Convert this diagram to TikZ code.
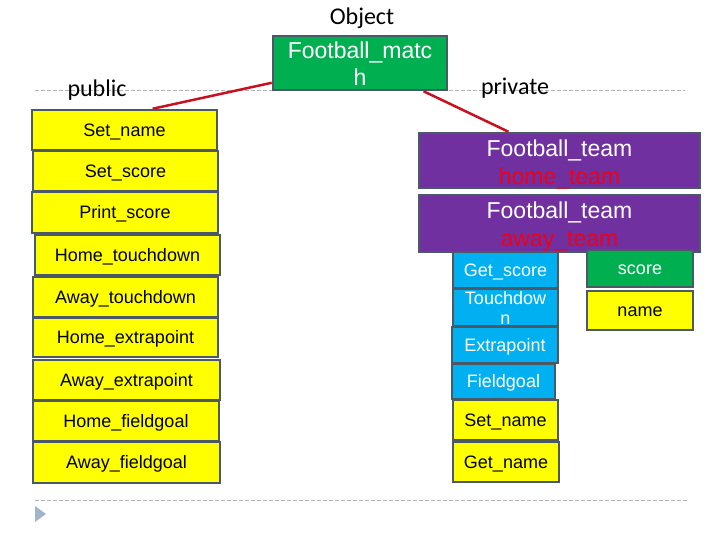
\documentclass[tikz,border=0pt]{standalone}
\usepackage{fontspec}
\usetikzlibrary{calc}
\setmainfont{Liberation Sans}
\newfontfamily\lblfont{Carlito}
\definecolor{bordc}{RGB}{75,88,102}
\definecolor{yel}{RGB}{255,255,0}
\definecolor{grn}{RGB}{0,176,80}
\definecolor{blu}{RGB}{0,176,240}
\definecolor{purp}{RGB}{112,48,160}
\definecolor{redtxt}{RGB}{240,0,20}
\definecolor{redln}{RGB}{200,16,30}
\definecolor{dashc}{RGB}{176,180,186}
\definecolor{tric}{RGB}{160,180,204}
\tikzset{
  box/.style={draw=bordc, line width=2.5pt, inner sep=0pt, align=center,
    font=\fontsize{18}{20}\selectfont},
  one/.style={text height=12.8pt, text depth=0pt},
  ybox/.style={box, one, fill=yel, text=black},
  bbox/.style={box, fill=blu, text=white},
  teamtxt/.style={inner sep=0pt, align=center, text=white,
    font=\fontsize{23}{28}\selectfont},
  lbl/.style={font=\lblfont\fontsize{24}{28}\selectfont, anchor=base, inner sep=0pt},
  sep/.style={draw=dashc, line width=0.8pt, dash pattern=on 4pt off 2pt},
  conn/.style={draw=redln, line width=2.5pt}
}
\begin{document}
\begin{tikzpicture}[x=1pt,y=-1pt]
\useasboundingbox (0,0) rectangle (720,540);
% separators
\draw[sep] (35,90) -- (685,90);
\draw[sep] (35,500) -- (688,500);
\fill[tric] (35,506) -- (46,514) -- (35,522) -- cycle;
% labels
\node[lbl] (obj) at (362,25) {Object};
\node[lbl] (pub) at (97,97) {public};
\node[lbl] (priv) at (515,95) {private};
% object box
\node[box, fill=grn, minimum width=174pt, minimum height=54pt] (fm) at (360,63) {};
\node[teamtxt, font=\fontsize{23}{27}\selectfont] (fmtxt) at (360,64) {Football\_matc\\h};
% left column
\node[ybox, minimum width=185pt, minimum height=40pt] (sn) at (124.5,130) {Set\_name};
\node[ybox, minimum width=185pt, minimum height=40pt] (ss) at (125.5,171) {Set\_score};
\node[ybox, minimum width=186pt, minimum height=41pt] (ps) at (125,212.5) {Print\_score};
\node[ybox, minimum width=185pt, minimum height=40pt] (ht) at (127.5,255) {Home\_touchdown};
\node[ybox, minimum width=185pt, minimum height=40pt] (at) at (125.5,297) {Away\_touchdown};
\node[ybox, minimum width=185pt, minimum height=39pt] (he) at (125.5,337.5) {Home\_extrapoint};
\node[ybox, minimum width=187pt, minimum height=40pt] (ae) at (126.5,380) {Away\_extrapoint};
\node[ybox, minimum width=186pt, minimum height=40pt] (hf) at (126,421) {Home\_fieldgoal};
\node[ybox, minimum width=187pt, minimum height=41pt] (af) at (126.5,462.5) {Away\_fieldgoal};
% teams
\node[box, fill=purp, minimum width=281pt, minimum height=55pt] (home) at (559.5,160.5) {};
\node[teamtxt] (hometxt) at (559.5,164) {Football\_team\\\textcolor{redtxt}{home\_team}};
\node[box, fill=purp, minimum width=281pt, minimum height=57pt] (away) at (559.5,223.5) {};
\node[teamtxt] (awaytxt) at (559.5,226.5) {Football\_team\\\textcolor{redtxt}{away\_team}};
% right column
\node[bbox, one, minimum width=105pt, minimum height=36pt] (gs) at (505.5,270) {Get\_score};
\node[bbox, minimum width=105pt, minimum height=37pt] (td) at (505.5,307.5) {Touchdow\\n};
\node[bbox, one, minimum width=106pt, minimum height=36pt] (ep) at (505,345) {Extrapoint};
\node[bbox, one, minimum width=103pt, minimum height=35pt] (fg) at (503.5,381.5) {Fieldgoal};
\node[ybox, minimum width=105pt, minimum height=40pt] (sn2) at (505.5,420) {Set\_name};
\node[ybox, minimum width=106pt, minimum height=40pt] (gn) at (506,462) {Get\_name};
\node[box, one, fill=grn, text=white, minimum width=106pt, minimum height=37pt] (sc) at (640,268.5) {score};
\node[ybox, minimum width=106pt, minimum height=39pt] (nm) at (640,310.5) {name};
% connectors
\draw[conn] ($(fm.south west)!0.15!(fm.north west)$) -- ($(sn.north west)!0.65!(sn.north east)$);
\draw[conn] ($(fm.south west)!0.86!(fm.south east)$) -- ($(home.north west)!0.32!(home.north east)$);
\end{tikzpicture}
\end{document}
